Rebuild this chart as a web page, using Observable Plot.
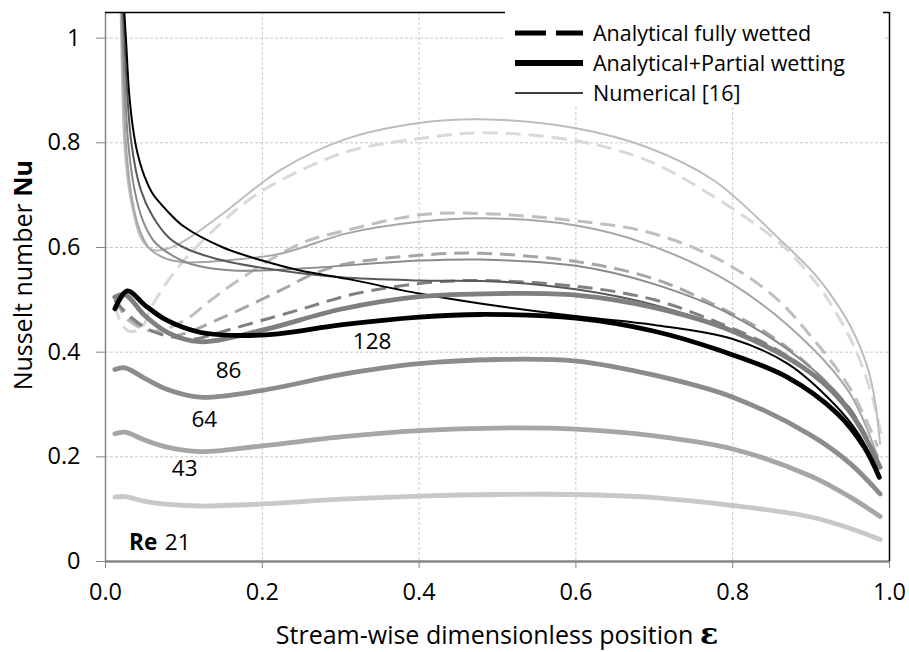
<!DOCTYPE html>
<html><head><meta charset="utf-8">
<script src="https://cdn.jsdelivr.net/npm/d3@7"></script>
<script src="https://cdn.jsdelivr.net/npm/@observablehq/plot@0.6"></script>
<style>
body{margin:0;background:#fff;}
#chart{width:909px;height:652px;}
</style></head><body><div id="chart"></div>
<script>
// ---------- data ----------
const xTicks = [0, 0.2, 0.4, 0.6, 0.8, 1.0];
const yTicks = [0, 0.2, 0.4, 0.6, 0.8, 1.0];
const reLabels = ["21", "43", "64", "86", "128"];
const reLabelX = [0.092, 0.101, 0.126, 0.157, 0.34];
const reLabelY = [0.036, 0.178, 0.271, 0.365, 0.42];

// Analytical + partial wetting (thick)
const pwX = [0.012,0.025,0.05,0.08,0.12,0.2,0.3,0.4,0.5,0.6,0.7,0.8,0.9,0.95,0.988];
const pw21 = [0.123,0.124,0.115,0.109,0.106,0.110,0.119,0.125,0.128,0.128,0.122,0.107,0.085,0.063,0.042];
const pw43 = [0.244,0.247,0.232,0.218,0.210,0.221,0.238,0.250,0.255,0.253,0.240,0.215,0.163,0.123,0.086];
const pw64 = [0.367,0.370,0.350,0.328,0.314,0.327,0.357,0.378,0.386,0.383,0.356,0.314,0.241,0.187,0.129];
const pw86 = [0.505,0.510,0.470,0.437,0.420,0.442,0.482,0.506,0.512,0.509,0.485,0.440,0.360,0.285,0.180];
const pw128X = [0.012,0.028,0.05,0.078,0.12,0.164,0.22,0.3,0.4,0.478,0.6,0.7,0.784,0.87,0.934,0.968,0.987];
const pw128 = [0.483,0.517,0.490,0.461,0.438,0.432,0.435,0.452,0.467,0.472,0.465,0.440,0.403,0.352,0.282,0.218,0.161];

// Analytical fully wetted (dashed)
const fw21X = [0.012,0.02,0.03,0.045,0.06,0.08,0.1,0.12,0.15,0.18,0.223,0.308,0.4,0.478,0.6,0.69,0.776,0.861,0.904,0.93,0.955,0.975,0.99];
const fw21 = [0.49,0.455,0.44,0.445,0.49,0.537,0.575,0.607,0.65,0.688,0.728,0.783,0.808,0.819,0.804,0.767,0.697,0.607,0.537,0.48,0.41,0.33,0.24];
const fw43X = [0.012,0.03,0.06,0.1,0.134,0.172,0.248,0.308,0.4,0.478,0.605,0.69,0.776,0.85,0.9,0.95,0.985];
const fw43 = [0.50,0.46,0.44,0.46,0.499,0.540,0.607,0.633,0.662,0.665,0.650,0.630,0.582,0.51,0.43,0.33,0.22];
const fw64X = [0.012,0.03,0.06,0.09,0.146,0.223,0.266,0.308,0.4,0.478,0.605,0.7,0.784,0.85,0.9,0.95,0.985];
const fw64 = [0.50,0.465,0.44,0.432,0.464,0.518,0.55,0.569,0.585,0.589,0.572,0.54,0.485,0.43,0.37,0.29,0.2];
const fw86X = [0.012,0.03,0.06,0.11,0.155,0.24,0.32,0.4,0.478,0.605,0.7,0.784,0.85,0.9,0.95,0.985];
const fw86 = [0.50,0.47,0.44,0.425,0.442,0.478,0.512,0.531,0.537,0.525,0.50,0.455,0.41,0.36,0.29,0.19];

// Numerical [16] (thin)
const nm21X = [0.018,0.02,0.024,0.03,0.036,0.042,0.05,0.062,0.08,0.1,0.15,0.223,0.308,0.4,0.48,0.6,0.69,0.776,0.861,0.904,0.93,0.95,0.97,0.98,0.988];
const nm21 = [1.2,1.0,0.8,0.71,0.665,0.63,0.607,0.595,0.598,0.612,0.665,0.748,0.808,0.838,0.845,0.828,0.792,0.728,0.614,0.55,0.499,0.45,0.38,0.32,0.225];
const nm43X = [0.019,0.021,0.026,0.033,0.042,0.055,0.075,0.1,0.15,0.223,0.308,0.4,0.478,0.6,0.69,0.8,0.9,0.95,0.985];
const nm43 = [1.2,1.0,0.8,0.7,0.64,0.6,0.58,0.572,0.575,0.588,0.627,0.649,0.656,0.642,0.607,0.53,0.41,0.32,0.2];
const nm64X = [0.019,0.022,0.029,0.037,0.048,0.063,0.085,0.11,0.163,0.25,0.4,0.478,0.6,0.7,0.8,0.9,0.95,0.985];
const nm64 = [1.2,1.0,0.8,0.71,0.65,0.61,0.585,0.568,0.556,0.56,0.575,0.577,0.565,0.53,0.47,0.37,0.29,0.19];
const nm86X = [0.02,0.024,0.033,0.045,0.06,0.08,0.1,0.15,0.223,0.3,0.4,0.5,0.6,0.7,0.8,0.9,0.95,0.985];
const nm86 = [1.2,1.0,0.8,0.71,0.66,0.62,0.6,0.575,0.556,0.543,0.537,0.535,0.52,0.49,0.44,0.36,0.29,0.19];
const nm128X = [0.02,0.026,0.031,0.038,0.044,0.05,0.06,0.078,0.1,0.15,0.2,0.248,0.308,0.4,0.478,0.605,0.7,0.8,0.87,0.93,0.96,0.985];
const nm128 = [1.15,1.0,0.88,0.8,0.762,0.735,0.703,0.671,0.64,0.6,0.575,0.556,0.540,0.512,0.493,0.468,0.452,0.425,0.378,0.30,0.245,0.175];

const legendLabels = ["Analytical fully wetted", "Analytical+Partial wetting", "Numerical [16]"];

// ---------- drawing ----------
const FONT = "'Open Sans', Lato, sans-serif";
const FS = 22.5;      // in-plot labels
const FL = 21.5;      // legend
const FT = 23.5;      // tick labels
const FA = 25;        // axis titles
const yMax = 1.049;
const rows = (xs, ys) => xs.map((x, i) => ({x, y: ys[i]}));

const dashed = [
  [fw21X, fw21, "#d9d9d9"], [fw43X, fw43, "#bfbfbf"], [fw64X, fw64, "#a6a6a6"], [fw86X, fw86, "#808080"]
];
const thin = [
  [nm21X, nm21, "#bdbdbd"], [nm43X, nm43, "#a6a6a6"], [nm64X, nm64, "#8a8a8a"], [nm86X, nm86, "#595959"], [nm128X, nm128, "#000000"]
];
const thick = [
  [pwX, pw21, "#c8c8c8"], [pwX, pw43, "#a6a6a6"], [pwX, pw64, "#8c8c8c"], [pwX, pw86, "#7f7f7f"], [pw128X, pw128, "#000000"]
];
const CURVE = "catmull-rom";

const marks = [
  Plot.gridX([0.2, 0.4, 0.6, 0.8], {stroke: "#c8c8c8", strokeOpacity: 1, strokeDasharray: "3,2"}),
  Plot.gridY([0.2, 0.4, 0.6, 0.8, 1.0], {stroke: "#c8c8c8", strokeOpacity: 1, strokeDasharray: "3,2"}),
  ...dashed.map(([xs, ys, c]) => Plot.line(rows(xs, ys), {x: "x", y: "y", stroke: c, strokeWidth: 3, strokeDasharray: "15,8", strokeLinecap: "butt", curve: CURVE, clip: true})),
  ...thin.map(([xs, ys, c]) => Plot.line(rows(xs, ys), {x: "x", y: "y", stroke: c, strokeWidth: 2, curve: CURVE, clip: true})),
  ...thick.map(([xs, ys, c]) => Plot.line(rows(xs, ys), {x: "x", y: "y", stroke: c, strokeWidth: 4.8, curve: CURVE, clip: true})),
  Plot.ruleX([0], {stroke: "#868686", strokeWidth: 1.5}),
  Plot.ruleY([0], {stroke: "#868686", strokeWidth: 2.5}),
  Plot.ruleX([1], {stroke: "#000", strokeWidth: 1.5}),
  Plot.ruleY([yMax], {stroke: "#000", strokeWidth: 1.5}),
  Plot.axisX(xTicks, {tickFormat: d => d.toFixed(1), tickSize: 7, tickPadding: 15, stroke: "#868686", fill: "#000", label: null, fontSize: FT}),
  Plot.axisY(yTicks, {tickFormat: d => (d === 0 || d === 1) ? String(d) : d.toFixed(1), tickSize: 9, tickPadding: 16, stroke: "#868686", fill: "#000", label: null, fontSize: FT}),
  Plot.text(reLabels, {x: (d, i) => reLabelX[i], y: (d, i) => reLabelY[i], text: d => d, fontSize: FS, fill: "#000"}),
  Plot.text(["Re"], {x: [0.048], y: [0.036], text: d => d, fontSize: FS, fontWeight: "bold", fill: "#000"})
];

const svg = Plot.plot({
  width: 909, height: 652,
  marginLeft: 105, marginRight: 20, marginTop: 12, marginBottom: 91,
  x: {domain: [0, 1]},
  y: {domain: [0, yMax]},
  style: {fontFamily: FONT, fontSize: FS + "px", background: "#fff", color: "#000"},
  marks
});
document.getElementById("chart").appendChild(svg);

const s = d3.select(svg);
// legend
const lg = s.append("g").attr("text-anchor", "start");
lg.append("rect").attr("x", 505).attr("y", 0).attr("width", 378).attr("height", 106).attr("fill", "#fff");
const rowsY = [33, 63, 93];
lg.append("line").attr("x1", 515).attr("x2", 583).attr("y1", rowsY[0]).attr("y2", rowsY[0]).attr("stroke", "#000").attr("stroke-width", 5).attr("stroke-dasharray", "31,10");
lg.append("line").attr("x1", 515).attr("x2", 583).attr("y1", rowsY[1]).attr("y2", rowsY[1]).attr("stroke", "#000").attr("stroke-width", 6);
lg.append("line").attr("x1", 515).attr("x2", 583).attr("y1", rowsY[2]).attr("y2", rowsY[2]).attr("stroke", "#000").attr("stroke-width", 1.5);
legendLabels.forEach((t, i) => {
  lg.append("text").attr("x", 593).attr("y", rowsY[i] + 8).attr("text-anchor", "start").attr("font-family", FONT).attr("font-size", FL).attr("fill", "#000").text(t);
});
// axis titles
const xt = s.append("text").attr("x", 497).attr("y", 644).attr("text-anchor", "middle").attr("font-family", FONT).attr("font-size", FA).attr("fill", "#000");
xt.append("tspan").text("Stream-wise dimensionless position ");
xt.append("tspan").attr("font-family", "'DejaVu Serif', serif").attr("font-weight", "bold").attr("font-size", 30).text("ε");
const yt = s.append("text").attr("transform", "translate(32,160) rotate(-90)").attr("text-anchor", "end").attr("font-family", FONT).attr("font-size", FA).attr("fill", "#000");
yt.append("tspan").text("Nusselt number ");
yt.append("tspan").attr("font-weight", "bold").text("Nu");
</script></body></html>
